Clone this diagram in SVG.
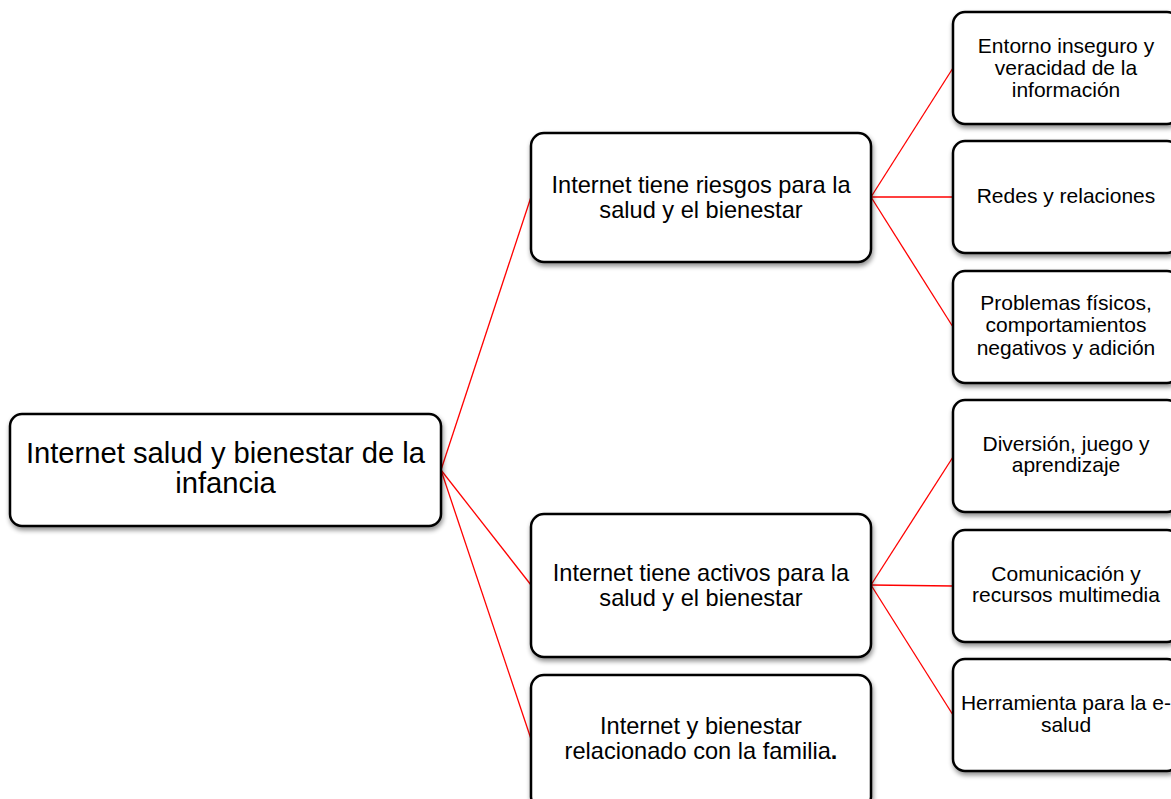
<svg xmlns="http://www.w3.org/2000/svg" width="1171" height="799" viewBox="0 0 1171 799">
<defs>
<filter id="sh" x="-10%" y="-10%" width="125%" height="130%">
<feGaussianBlur in="SourceAlpha" stdDeviation="2.5"/>
<feOffset dx="1" dy="3" result="b"/>
<feComponentTransfer><feFuncA type="linear" slope="0.45"/></feComponentTransfer>
<feMerge><feMergeNode/><feMergeNode in="SourceGraphic"/></feMerge>
</filter>
</defs>
<style>
.box{fill:#fff;stroke:#000;stroke-width:2.5;filter:url(#sh)}
.t{font-family:"Liberation Sans",Arial,sans-serif;fill:#000;text-anchor:middle}
.root{font-size:29.2px}
.mid{font-size:23.6px}
.leaf{font-size:21px}
.con line{stroke:#ff0000;stroke-width:1.3}
</style>
<rect width="1171" height="799" fill="#fff"/>
<g id="connectors" class="con">
<line x1="441" y1="470" x2="531" y2="197"/>
<line x1="441" y1="470" x2="531" y2="585"/>
<line x1="441" y1="470" x2="531" y2="739"/>
<line x1="871" y1="197" x2="953" y2="68"/>
<line x1="871" y1="197" x2="953" y2="197"/>
<line x1="871" y1="197" x2="953" y2="327"/>
<line x1="871" y1="585" x2="953" y2="457"/>
<line x1="871" y1="585" x2="953" y2="586"/>
<line x1="871" y1="585" x2="953" y2="715"/>
</g>
<g id="root">
<rect class="box" x="10" y="414" width="431" height="112" rx="12"/>
<text class="t root" x="225.5" y="463">Internet salud y bienestar de la</text>
<text class="t root" x="225.5" y="493">infancia</text>
</g>
<g id="riesgos">
<rect class="box" x="531" y="133" width="340" height="129" rx="13"/>
<text class="t mid" x="701" y="193">Internet tiene riesgos para la</text>
<text class="t mid" x="701" y="218">salud y el bienestar</text>
</g>
<g id="activos">
<rect class="box" x="531" y="514" width="340" height="143" rx="13"/>
<text class="t mid" x="701" y="581">Internet tiene activos para la</text>
<text class="t mid" x="701" y="606">salud y el bienestar</text>
</g>
<g id="familia">
<rect class="box" x="531" y="675" width="340" height="135" rx="13"/>
<text class="t mid" x="701" y="734">Internet y bienestar</text>
<text class="t mid" x="701" y="759">relacionado con la familia<tspan font-weight="bold">.</tspan></text>
</g>
<g id="entorno">
<rect class="box" x="953" y="12" width="226" height="112" rx="12"/>
<text class="t leaf" x="1066" y="53">Entorno inseguro y</text>
<text class="t leaf" x="1066" y="75">veracidad de la</text>
<text class="t leaf" x="1066" y="97">información</text>
</g>
<g id="redes">
<rect class="box" x="953" y="141" width="226" height="112" rx="12"/>
<text class="t leaf" x="1066" y="203">Redes y relaciones</text>
</g>
<g id="problemas">
<rect class="box" x="953" y="271" width="226" height="112" rx="12"/>
<text class="t leaf" x="1066" y="310">Problemas físicos,</text>
<text class="t leaf" x="1066" y="332">comportamientos</text>
<text class="t leaf" x="1066" y="355">negativos y adición</text>
</g>
<g id="diversion">
<rect class="box" x="953" y="400" width="226" height="112" rx="12"/>
<text class="t leaf" x="1066" y="451">Diversión, juego y</text>
<text class="t leaf" x="1066" y="472">aprendizaje</text>
</g>
<g id="comunicacion">
<rect class="box" x="953" y="530" width="226" height="112" rx="12"/>
<text class="t leaf" x="1066" y="581">Comunicación y</text>
<text class="t leaf" x="1066" y="602">recursos multimedia</text>
</g>
<g id="herramienta">
<rect class="box" x="953" y="659" width="226" height="112" rx="12"/>
<text class="t leaf" x="1066" y="710">Herramienta para la e-</text>
<text class="t leaf" x="1066" y="732">salud</text>
</g>
</svg>
